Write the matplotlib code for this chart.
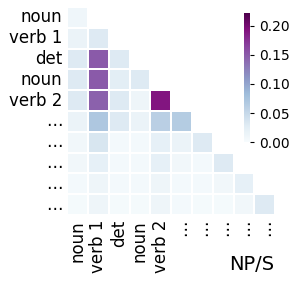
import numpy as np
import matplotlib.pyplot as plt
import seaborn as sns

labels = ["noun", "verb 1", "det", "noun", "verb 2", "…", "…", "…", "…", "…"]

# lower triangle rows (including the diagonal)
rows = [
    [0.010],
    [0.015, 0.030],
    [0.030, 0.150, 0.030],
    [0.030, 0.150, 0.025, 0.030],
    [0.030, 0.145, 0.030, 0.012, 0.190],
    [0.015, 0.070, 0.030, 0.015, 0.060, 0.065],
    [0.008, 0.035, 0.005, 0.005, 0.020, 0.015, 0.030],
    [0.008, 0.020, 0.005, 0.005, 0.020, 0.008, 0.005, 0.030],
    [0.005, 0.012, 0.005, 0.005, 0.012, 0.005, 0.005, 0.008, 0.020],
    [0.004, 0.012, 0.004, 0.004, 0.012, 0.005, 0.004, 0.004, 0.008, 0.030],
]

n = len(labels)
mat = np.full((n, n), np.nan)
for i, r in enumerate(rows):
    mat[i, :len(r)] = r
mask = np.triu(np.ones((n, n), dtype=bool), k=1)

fig = plt.figure(figsize=(2.93, 2.83), dpi=100)
ax = fig.add_axes([0.229, 0.240, 0.710, 0.735])
cax = fig.add_axes([0.833, 0.498, 0.020, 0.456])

sns.heatmap(mat, mask=mask, cmap="BuPu", vmin=0, vmax=0.222,
            linewidths=0.15, linecolor="white", square=False,
            ax=ax, cbar_ax=cax, xticklabels=labels, yticklabels=labels)

ax.tick_params(length=0, labelsize=12)
ax.set_xticklabels(labels, rotation=90)
ax.set_yticklabels(labels, rotation=0)
cax.tick_params(labelsize=10, length=3)
cax.set_yticks([0.0, 0.05, 0.10, 0.15, 0.20])
for s in cax.spines.values():
    s.set_visible(False)

fig.text(0.86, 0.064, "NP/S", fontsize=14, ha="center", va="center")

fig.savefig("out.png", dpi=100)
